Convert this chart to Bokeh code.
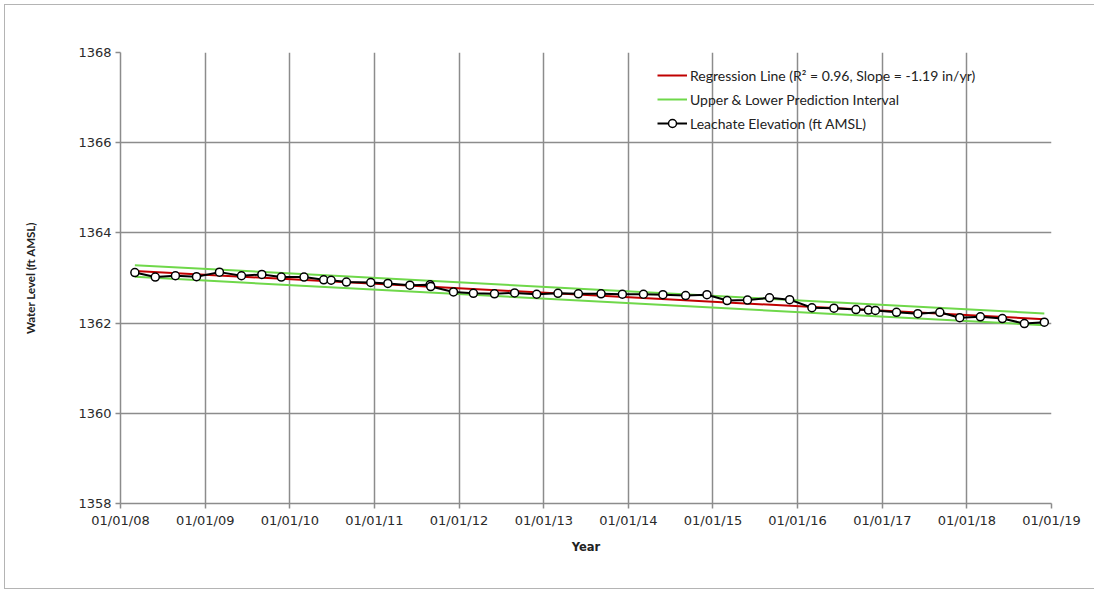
import pandas as pd
from bokeh.plotting import figure
from bokeh.models import (Range1d, FixedTicker, DatetimeTickFormatter, Legend, LegendItem,
                          ColumnDataSource)
from bokeh.embed import file_html
from bokeh.resources import INLINE

# ---------------- data ----------------
obs_dates = ["2008-03-03", "2008-05-30", "2008-08-25", "2008-11-24", "2009-03-03", "2009-06-06",
             "2009-09-02", "2009-11-25", "2010-03-03", "2010-05-27", "2010-06-28", "2010-09-02",
             "2010-12-16", "2011-02-28", "2011-06-03", "2011-08-29", "2011-09-01", "2011-12-08",
             "2012-03-03", "2012-06-02", "2012-08-28", "2012-12-01", "2013-03-03", "2013-05-30",
             "2013-09-05", "2013-12-06", "2014-03-07", "2014-05-30", "2014-09-05", "2014-12-06",
             "2015-03-03", "2015-05-30", "2015-09-02", "2015-11-28", "2016-03-03", "2016-06-06",
             "2016-09-09", "2016-11-02", "2016-12-02", "2017-03-03", "2017-06-03", "2017-09-06",
             "2017-12-01", "2018-02-28", "2018-06-03", "2018-09-06", "2018-12-01"]
obs_values = [1363.12, 1363.02, 1363.05, 1363.03, 1363.13, 1363.05,
              1363.08, 1363.02, 1363.02, 1362.96, 1362.95, 1362.91,
              1362.90, 1362.88, 1362.84, 1362.85, 1362.81, 1362.69,
              1362.66, 1362.65, 1362.67, 1362.64, 1362.66, 1362.65,
              1362.65, 1362.64, 1362.64, 1362.63, 1362.61, 1362.63,
              1362.50, 1362.51, 1362.56, 1362.52, 1362.34, 1362.33,
              1362.30, 1362.29, 1362.28, 1362.24, 1362.21, 1362.24,
              1362.12, 1362.14, 1362.10, 1361.99, 1362.02]

reg_dates = ["2008-03-03", "2018-12-01"]
reg_values = [1363.155, 1362.085]
upper_values = [1363.285, 1362.215]
lower_values = [1363.025, 1361.955]

tick_years = list(range(2008, 2020))
y_ticks = [1358, 1360, 1362, 1364, 1366, 1368]

legend_labels = ["Regression Line (R\u00b2 = 0.96, Slope = -1.19 in/yr)",
                 "Upper & Lower Prediction Interval",
                 "Leachate Elevation (ft AMSL)"]
x_title = "Year"
y_title = "Water Level (ft AMSL)"

# ---------------- figure ----------------
GRID = "#8c8c8c"
TICK_FONT = "DejaVu Sans"

p = figure(width=1090, height=585, x_axis_type="datetime", output_backend="svg",
           toolbar_location=None,
           x_range=Range1d(pd.Timestamp("2008-01-01"), pd.Timestamp("2019-01-01")),
           y_range=Range1d(1358, 1368),
           min_border_left=115, min_border_right=44, min_border_top=47, min_border_bottom=87)
p.styles = {"border-left": "1px solid #b4b4b4", "border-top": "1px solid #b4b4b4",
            "border-bottom": "1px solid #b4b4b4", "margin-left": "4px", "margin-top": "4px"}
p.outline_line_color = None

x_ticks_ms = [pd.Timestamp(f"{y}-01-01").value / 1e6 for y in tick_years]
p.xaxis.ticker = FixedTicker(ticks=x_ticks_ms)
fmt = "%m/%d/%y"
p.xaxis.formatter = DatetimeTickFormatter(years=fmt, months=fmt, days=fmt, hours=fmt,
                                          context=None)
p.yaxis.ticker = FixedTicker(ticks=y_ticks)

for ax in (p.xaxis, p.yaxis):
    ax.axis_line_color = GRID
    ax.axis_line_width = 1.5
    ax.major_tick_line_color = GRID
    ax.major_tick_line_width = 1.5
    ax.major_tick_out = 5
    ax.major_tick_in = 0
    ax.minor_tick_line_color = None
    ax.major_label_text_font = TICK_FONT
    ax.major_label_text_font_size = "13px"
    ax.major_label_text_color = "#2a2a2a"
    ax.major_label_standoff = 4

p.xaxis.axis_label = x_title
p.xaxis.axis_label_text_font = TICK_FONT
p.xaxis.axis_label_text_font_style = "bold"
p.xaxis.axis_label_text_font_size = "11.5px"
p.xaxis.axis_label_text_color = "#222222"
p.xaxis.axis_label_standoff = 9

p.yaxis.axis_label = y_title
p.yaxis.axis_label_text_font = "Lato"
p.yaxis.axis_label_text_font_style = "bold"
p.yaxis.axis_label_text_font_size = "11.5px"
p.yaxis.axis_label_text_color = "#222222"
p.yaxis.axis_label_standoff = 38

p.grid.grid_line_color = GRID
p.grid.grid_line_width = 1.5

# ---------------- glyphs ----------------
obs = ColumnDataSource(dict(x=pd.to_datetime(obs_dates), y=obs_values))
reg = ColumnDataSource(dict(x=pd.to_datetime(reg_dates), y=reg_values,
                            up=upper_values, lo=lower_values))

r_reg = p.line("x", "y", source=reg, line_color="#c00000", line_width=2)
r_up = p.line("x", "up", source=reg, line_color="#6fd84a", line_width=2)
r_lo = p.line("x", "lo", source=reg, line_color="#6fd84a", line_width=2)
r_obs_l = p.line("x", "y", source=obs, line_color="black", line_width=2)
r_obs_m = p.scatter("x", "y", source=obs, marker="circle", size=8, fill_color="white",
                    line_color="black", line_width=1.5)

legend = Legend(items=[LegendItem(label=legend_labels[0], renderers=[r_reg]),
                       LegendItem(label=legend_labels[1], renderers=[r_up]),
                       LegendItem(label=legend_labels[2], renderers=[r_obs_l, r_obs_m])],
                location=(537, 370), orientation="vertical",
                glyph_width=30, glyph_height=20, label_height=20, spacing=4,
                padding=0, margin=0, label_standoff=3,
                label_text_font="Lato", label_text_font_size="14px",
                label_text_color="#222222",
                border_line_color=None, background_fill_alpha=0)
p.add_layout(legend, "center")

open("out.html", "w").write(file_html(p, INLINE))
